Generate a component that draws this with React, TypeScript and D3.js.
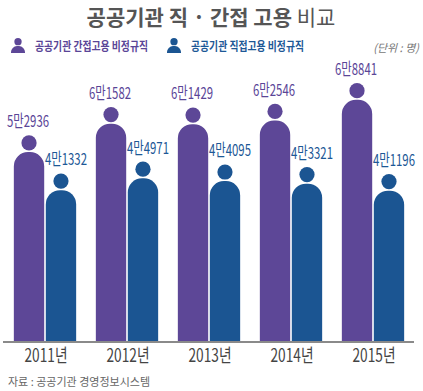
import * as d3 from "d3";

const years = ["2011년", "2012년", "2013년", "2014년", "2015년"];
const seriesKeys = ["indirect", "direct"];
const seriesNames = ["공공기관 간접고용 비정규직", "공공기관 직접고용 비정규직"];
const indirectValues = [52936, 61582, 61429, 62546, 68841];
const directValues = [41332, 44971, 44095, 43321, 41196];

const colors = ["#5d4797", "#1b5592"];
const labelColors = ["#5a4597", "#1d5896"];

const W = 423;
const H = 391;
const baseline = 342;
const FONT = "'Noto Sans CJK KR', 'Noto Sans', sans-serif";

function fmt(v: number) {
  const man = Math.floor(v / 10000);
  const rest = v % 10000;
  return `${man}만${rest}`;
}

// rounded-top body path
function bodyPath(x: number, w: number, top: number, bottom: number) {
  const r = w / 2 - 1;
  return `M${x},${bottom} L${x},${top + r} A${r},${r} 0 0 1 ${x + r},${top} L${x + w - r},${top} A${r},${r} 0 0 1 ${x + w},${top + r} L${x + w},${bottom} Z`;
}

function Person({ x, y, size, color }: { x: number; y: number; size: number; color: string }) {
  const w = size;
  return (
    <g>
      <circle cx={x} cy={y + w * 0.26} r={w * 0.26} fill={color} />
      <path d={bodyPath(x - w / 2, w, y + w * 0.58, y + w * 1.08)} fill={color} />
    </g>
  );
}

export default function App() {
  const x0 = d3.scaleBand().domain(years).range([4, 414]).paddingInner(0.24).paddingOuter(0.12);
  const x1 = d3.scaleBand().domain(seriesKeys).range([0, x0.bandwidth()]).paddingInner(0.05);
  const y = d3.scaleLinear().domain([0, 70000]).range([326, 96]);
  const values = [indirectValues, directValues];
  const headR = 7.6;
  const labelShift = [-1, 5];

  return (
    <svg width={W} height={H} style={{ position: "absolute", left: 0, top: 0, background: "#fff" }} fontFamily={FONT}>
      {/* title */}
      <text x={211} y={25} textAnchor="middle" fontSize={21} fill="#555" fontWeight={600}>
        공공기관 직 · 간접 고용 <tspan fontWeight="normal">비교</tspan>
      </text>

      {/* legend */}
      {seriesNames.map((name, i) => {
        const lx = i === 0 ? 11 : 167;
        return (
          <g key={name}>
            <Person x={lx + 7} y={38} size={14} color={colors[i]} />
            <text x={lx + 24} y={51} fontSize={12.5} fontWeight="bold" fill={labelColors[i]} textLength={113} lengthAdjust="spacingAndGlyphs">
              {name}
            </text>
          </g>
        );
      })}
      <text x={419} y={52} textAnchor="end" fontSize={11} fill="#777" fontStyle="italic">
        (단위 : 명)
      </text>

      {/* bars */}
      {years.map((yr, gi) => (
        <g key={yr} transform={`translate(${x0(yr)},0)`}>
          {seriesKeys.map((k, si) => {
            const v = values[si][gi];
            const bx = x1(k)!;
            const bw = x1.bandwidth();
            const top = y(v);
            const cx = bx + bw / 2;
            const headCy = top - 1.5 - headR;
            return (
              <g key={k}>
                <path d={bodyPath(bx, bw, top, baseline)} fill={colors[si]} />
                <circle cx={cx} cy={headCy} r={headR} fill={colors[si]} />
                <text x={cx + labelShift[si]} y={headCy - headR - 8} textAnchor="middle" fontSize={16.5} fill={labelColors[si]} textLength={42} lengthAdjust="spacingAndGlyphs">
                  {fmt(v)}
                </text>
              </g>
            );
          })}
          <text x={x0.bandwidth() / 2 + 1} y={362} textAnchor="middle" fontSize={18} fill="#444" textLength={43} lengthAdjust="spacingAndGlyphs">
            {yr}
          </text>
        </g>
      ))}

      {/* axis line */}
      <line x1={3} x2={414} y1={baseline} y2={baseline} stroke="#8a8a8a" strokeWidth={2} />

      {/* source */}
      <text x={8} y={386} fontSize={11} fill="#666">
        자료 : 공공기관 경영정보시스템
      </text>
    </svg>
  );
}
